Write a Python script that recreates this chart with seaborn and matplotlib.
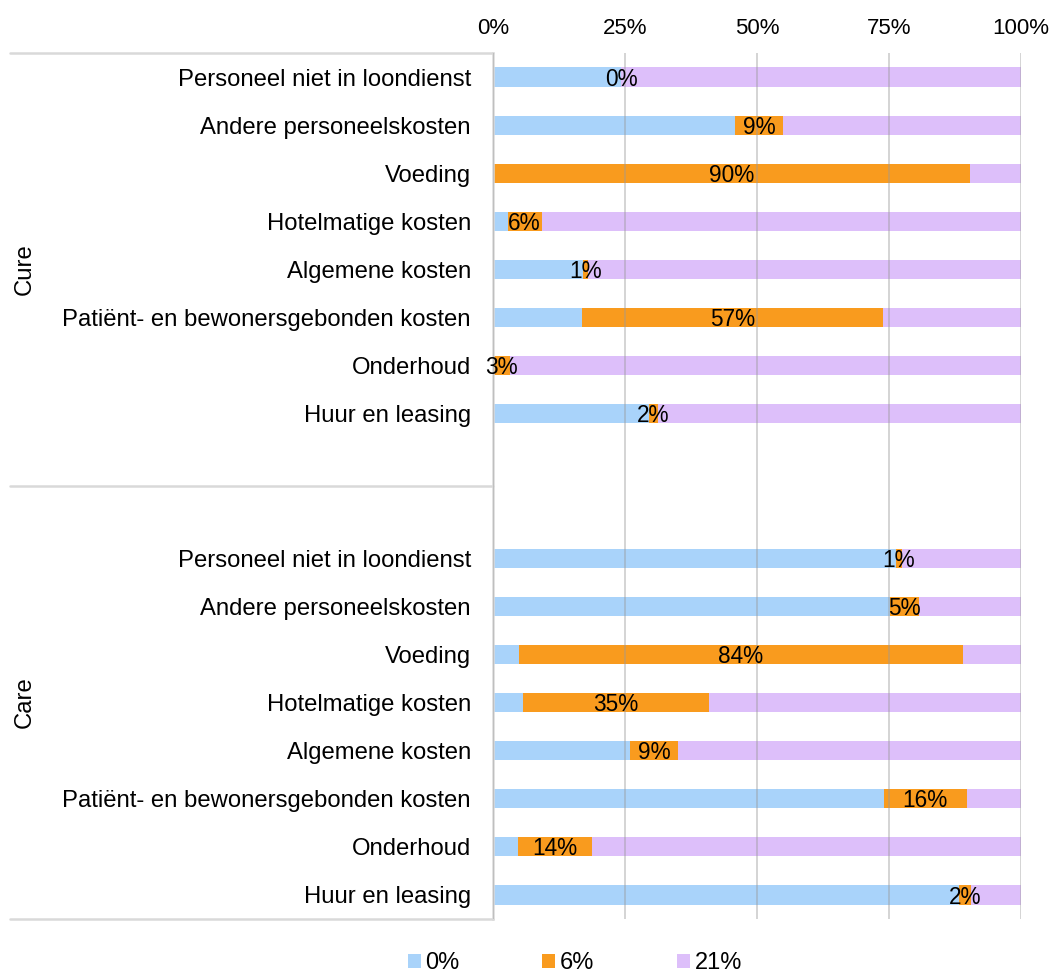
import matplotlib
matplotlib.use("Agg")
import matplotlib.pyplot as plt
import matplotlib.transforms as mtransforms
from matplotlib.patches import Patch
import seaborn as sns
import pandas as pd

categories = ["Personeel niet in loondienst", "Andere personeelskosten", "Voeding",
              "Hotelmatige kosten", "Algemene kosten",
              "Patiënt- en bewonersgebonden kosten", "Onderhoud", "Huur en leasing"]
groups = ["Cure", "Care"]
series_names = ["0%", "6%", "21%"]

cure_0 = [24.3, 45.9, 0.0, 2.8, 17.0, 16.8, 0.0, 29.6]
cure_6 = [0.0, 9.0, 90.3, 6.4, 0.9, 57.1, 3.2, 1.6]
cure_21 = [75.7, 45.1, 9.7, 90.8, 82.1, 26.1, 96.8, 68.8]
care_0 = [76.4, 75.2, 4.9, 5.7, 25.9, 74.0, 4.7, 88.2]
care_6 = [1.0, 5.4, 84.1, 35.2, 9.2, 15.7, 14.0, 2.3]
care_21 = [22.6, 19.4, 11.0, 59.1, 64.9, 10.3, 81.3, 9.5]

tick_values = [0, 25, 50, 75, 100]

C_BLUE = "#A9D3FA"
C_ORANGE = "#F99B1E"
C_PURPLE = "#DDBFFA"

sns.set_style("white")
plt.rcParams["font.family"] = ["Liberation Sans", "DejaVu Sans"]
plt.rcParams["text.color"] = "black"
plt.rcParams["xtick.color"] = "black"
plt.rcParams["ytick.color"] = "black"

# build long table
rows = []
for g, s0, s6, s21 in [("Cure", cure_0, cure_6, cure_21), ("Care", care_0, care_6, care_21)]:
    for c, a, b, d in zip(categories, s0, s6, s21):
        rows.append({"key": f"{g}|{c}", "group": g, "cat": c,
                     "v0": a, "v6": b, "v21": d})
df = pd.DataFrame(rows)
tot = df["v0"] + df["v6"] + df["v21"]
df["c0"] = df["v0"] / tot * 100
df["c6"] = (df["v0"] + df["v6"]) / tot * 100
df["c21"] = 100.0

order = [f"Cure|{c}" for c in categories] + ["blank1", "blank2"] + [f"Care|{c}" for c in categories]
labels = categories + ["", ""] + categories

fig = plt.figure(figsize=(10.53, 9.72), dpi=100)
ax = fig.add_axes([493 / 1053, 1 - 919 / 972, 528 / 1053, 866 / 972])

for col, color in [("c21", C_PURPLE), ("c6", C_ORANGE), ("c0", C_BLUE)]:
    sns.barplot(data=df, y="key", x=col, order=order, color=color, width=0.4,
                orient="h", saturation=1, errorbar=None, ax=ax, zorder=2,
                linewidth=0, edgecolor="none")

# value labels for the 6% segment
pos = {k: i for i, k in enumerate(order)}
for _, r in df.iterrows():
    ctr = (r["c0"] + r["c6"]) / 2
    ax.text(ctr, pos[r["key"]] + 0.045, f"{round(r['v6']):.0f}%", ha="center",
            va="center", fontsize=16.3, color="black", zorder=5)

ax.set_ylim(len(order) - 0.5, -0.5)
ax.set_xlim(0, 100)
ax.set_yticks(range(len(order)))
ax.set_yticklabels(labels, fontsize=17.2, color="black")
ax.set_xticks(tick_values)
ax.set_xticklabels([f"{t}%" for t in tick_values], fontsize=16, color="black")
ax.xaxis.tick_top()
ax.tick_params(axis="x", length=0, pad=10)
ax.tick_params(axis="y", length=0, pad=16)
ax.set_xlabel("")
ax.set_ylabel("")

ax.grid(axis="x", color="#9A9A9A", alpha=0.45, linewidth=1.3, zorder=4)
ax.grid(axis="y", visible=False)
ax.set_axisbelow(False)
for s in ["top", "right", "bottom"]:
    ax.spines[s].set_visible(False)
ax.spines["left"].set_color("#D9D9D9")
ax.spines["left"].set_linewidth(1.8)

# group separators
trans = mtransforms.blended_transform_factory(ax.transAxes, ax.transData)
x0 = (10 - 493) / 528
for yv in [-0.5, 8.5, 17.5]:
    ax.plot([x0, 0], [yv, yv], transform=trans, color="#D9D9D9", lw=1.8,
            clip_on=False, zorder=1)
ax.text(x0 + 0.028, 4.0, groups[0], rotation=90, ha="center", va="center",
        fontsize=17.2, color="black", transform=trans)
ax.text(x0 + 0.028, 13.0, groups[1], rotation=90, ha="center", va="center",
        fontsize=17.2, color="black", transform=trans)

handles = [Patch(facecolor=c, edgecolor="none", label=n)
           for c, n in zip([C_BLUE, C_ORANGE, C_PURPLE], series_names)]
fig.legend(handles=handles, loc="center", bbox_to_anchor=(575 / 1053, 1 - 963 / 972),
           ncol=3, frameon=False, fontsize=17, handlelength=0.55, handleheight=0.55,
           handletextpad=0.2, columnspacing=3.5, borderaxespad=0, labelcolor="black")

fig.savefig("out.png", dpi=100)
